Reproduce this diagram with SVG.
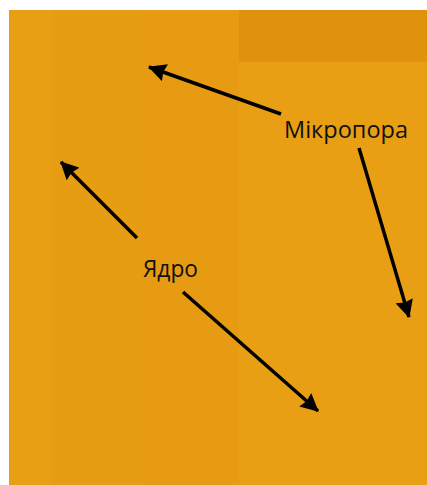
<svg xmlns="http://www.w3.org/2000/svg" width="427" height="485" viewBox="0 0 427 485">
<style>
.lbl{font-family:"Open Sans","Liberation Sans",sans-serif;font-size:23px;fill:#111}
.arr{stroke:#000;stroke-width:3.5;fill:none;marker-end:url(#ah)}
</style>
<defs>
<marker id="ah" viewBox="0 0 18 18" refX="17" refY="9" markerWidth="18" markerHeight="18" markerUnits="userSpaceOnUse" orient="auto">
<path d="M0,0 L18,9 L0,18 L2,9 Z" fill="#000"/>
</marker>
</defs>
<rect width="427" height="485" fill="#fff"/>
<g id="background">
<rect x="9" y="10" width="418" height="475" fill="#E89F14"/>
<rect x="51" y="10" width="94" height="475" fill="#E79D13"/>
<rect x="145" y="10" width="94" height="475" fill="#E69B12"/>
<rect x="239" y="10" width="188" height="52" fill="#E0920D"/>
</g>
<g id="connectors">
<line class="arr" x1="281" y1="114" x2="149" y2="67"/>
<line class="arr" x1="137" y1="238" x2="61" y2="162"/>
<line class="arr" x1="183" y1="292" x2="318" y2="411"/>
<line class="arr" x1="359" y1="148" x2="409" y2="317"/>
</g>
<g id="mikropora"><text class="lbl" x="284" y="138" textLength="124" lengthAdjust="spacingAndGlyphs">Мікропора</text></g>
<g id="yadro"><text class="lbl" x="143" y="277" textLength="55" lengthAdjust="spacingAndGlyphs">Ядро</text></g>
</svg>
